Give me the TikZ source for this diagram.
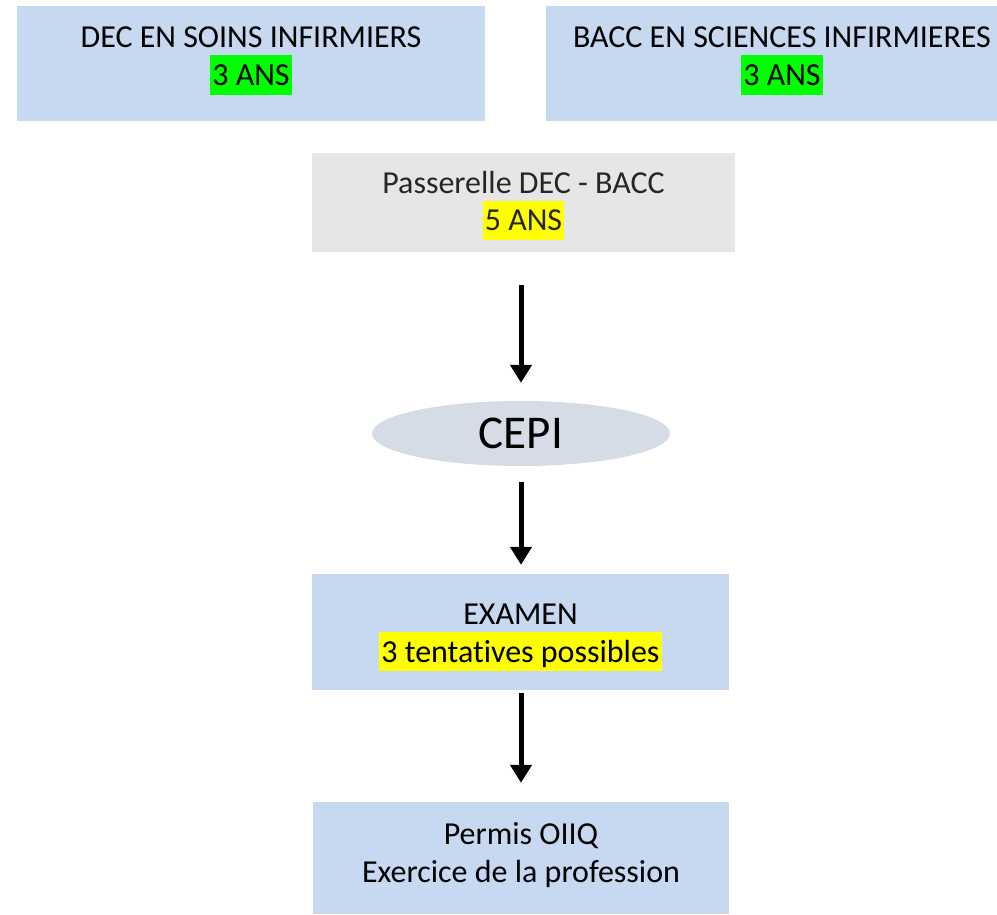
\documentclass[tikz,border=0pt]{standalone}
\usepackage{fontspec}
\setmainfont{Carlito}[Ligatures=NoCommon]
\usetikzlibrary{arrows.meta,shapes.geometric}
\definecolor{boxblue}{HTML}{C6D9F1}
\definecolor{boxgray}{HTML}{E6E6E6}
\definecolor{ovalgray}{HTML}{D6DCE5}
\definecolor{hlgreen}{HTML}{00FF00}
\definecolor{hlyellow}{HTML}{FFFF00}
\newcommand{\firstln}{\rule[-7pt]{0pt}{36pt}}
\newcommand{\hilite}[2]{{\setlength{\fboxsep}{0pt}\colorbox{#1}{\rule[-9pt]{0pt}{39.5pt}\hspace{2pt}#2\hspace{2pt}}}}
\tikzset{
  stage/.style={rectangle, fill=boxblue, inner sep=0pt, align=center,
    font=\fontsize{32}{38}\selectfont},
  flow/.style={line width=5pt, -{Triangle[width=21pt,length=18pt]}}
}
\begin{document}
\begin{tikzpicture}[x=1pt,y=-1pt]
\useasboundingbox (0,0) rectangle (997,915);
\clip (0,0) rectangle (997,915);
%programmes
\node[stage, minimum width=468pt, minimum height=115pt, text depth=22pt] (dec) at (251,63.5)
  {\firstln DEC EN SOINS INFIRMIERS\\\hilite{hlgreen}{3 ANS}};
\node[stage, minimum width=472pt, minimum height=115pt, text depth=22pt] (bacc) at (782,63.5)
  {\firstln BACC EN SCIENCES INFIRMIERES\\\hilite{hlgreen}{3 ANS}};
\node[stage, fill=boxgray, text=black!85, minimum width=423pt, minimum height=99pt, text depth=10pt] (pass) at (523.5,202.5)
  {\firstln Passerelle DEC - BACC\\\hilite{hlyellow}{5 ANS}};
%CEPI
\node[ellipse, fill=ovalgray, inner sep=0pt, minimum width=298pt, minimum height=65pt,
  font=\fontsize{47}{56}\selectfont] (cepi) at (521,433.5) {CEPI};
\node[stage, minimum width=417pt, minimum height=116pt, text depth=7pt] (exam) at (520.5,632)
  {\firstln EXAMEN\\\hilite{hlyellow}{3 tentatives possibles}};
\node[stage, minimum width=416pt, minimum height=112pt, text depth=19pt] (permis) at (521,858)
  {\firstln Permis OIIQ\\\rule[-9pt]{0pt}{30pt}Exercice de la profession};
%fleches
\draw[flow, shorten <=33pt, shorten >=18pt] (pass.south -| cepi.north) -- (cepi.north);
\draw[flow, shorten <=16pt, shorten >=9pt] (cepi.south) -- (exam.north -| cepi.south);
\draw[flow, shorten <=3pt, shorten >=19pt] (exam.south -| permis.north) -- (permis.north);
\end{tikzpicture}
\end{document}
